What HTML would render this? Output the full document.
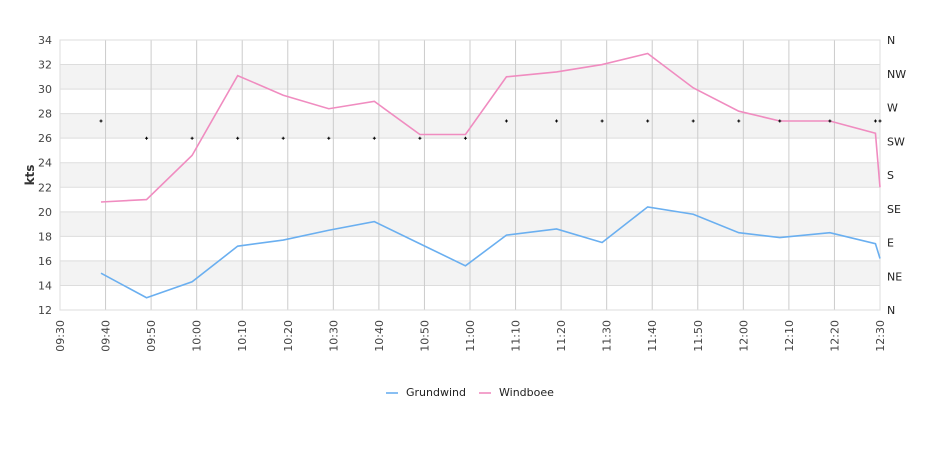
<!DOCTYPE html>
<html><head><meta charset="utf-8"><style>
body{margin:0;background:#fff;font-family:"DejaVu Sans","Liberation Sans",sans-serif}
svg text{font-family:"DejaVu Sans","Liberation Sans",sans-serif}
</style></head><body>
<svg id="chart" width="940" height="450" xmlns="http://www.w3.org/2000/svg"></svg>
<script>
const minutes=[9,19,29,39,49,59,69,79,89,98,109,119,129,139,149,158,169,179,180];
const grundwind=[15.0,13.0,14.3,17.2,17.7,18.5,19.2,17.4,15.6,18.1,18.6,17.5,20.4,19.8,18.3,17.9,18.3,17.4,16.2];
const windboee=[20.8,21.0,24.6,31.1,29.5,28.4,29.0,26.3,26.3,31.0,31.4,32.0,32.9,30.1,28.2,27.4,27.4,26.4,22.0];
const direction=[252,229,229,229,229,229,229,229,229,252,252,252,252,252,252,252,252,252,252];
const yTicks=[12,14,16,18,20,22,24,26,28,30,32,34];
const xTickLabels=["09:30","09:40","09:50","10:00","10:10","10:20","10:30","10:40","10:50","11:00","11:10","11:20","11:30","11:40","11:50","12:00","12:10","12:20","12:30"];
const dirLabels=["N","NE","E","SE","S","SW","W","NW","N"];
const L=60,R=880,T=40,B=310;
const X=m=>L+(R-L)*m/180, Y=v=>B-(B-T)*(v-12)/22, YD=d=>B-(B-T)*d/360;
const svg=document.getElementById('chart');const NS="http://www.w3.org/2000/svg";
function el(t,a,p){const e=document.createElementNS(NS,t);for(const k in a)e.setAttribute(k,a[k]);(p||svg).appendChild(e);return e;}
for(let i=0;i<yTicks.length-1;i++){if(i%2==1){const r=el('rect',{x:L,y:Y(yTicks[i+1]),width:R-L,height:Y(yTicks[i])-Y(yTicks[i+1]),fill:'#f3f3f3'});}}
yTicks.forEach(v=>{const l=el('line',{x1:L,x2:R,y1:Y(v),y2:Y(v),stroke:'#ddd'});
const t=el('text',{x:L-8,y:Y(v)+4,'text-anchor':'end','font-size':11,fill:'#444'});t.textContent=v;});
xTickLabels.forEach((s,i)=>{const x=X(i*10);if(i>0&&i<18){const l=el('line',{x1:x,x2:x,y1:T,y2:B,stroke:'#ccc'});}
const t=el('text',{x:0,y:0,'text-anchor':'end','font-size':11,fill:'#444',transform:`translate(${x+4},${B+10}) rotate(-90)`});t.textContent=s;});
const fr=el('rect',{x:L,y:T,width:R-L,height:B-T,fill:'none',stroke:'#ddd'});
dirLabels.forEach((s,i)=>{const t=el('text',{x:887,y:YD(i*45)+4,'font-size':11,fill:'#222'});t.textContent=s;});
const yt=el('text',{x:0,y:0,'text-anchor':'middle','font-size':12,'font-weight':'bold',fill:'#333',transform:'translate(34,175) rotate(-90)'});yt.textContent='kts';
function line(vals,c,name){const p=el('polyline',{points:vals.map((v,i)=>X(minutes[i])+','+Y(v)).join(' '),fill:'none',stroke:c,'stroke-width':1.6});}
line(grundwind,'#6aaff0','grundwind-line');line(windboee,'#f08cc0','windboee-line');
direction.forEach((d,i)=>{const x=X(minutes[i]),y=YD(d);const p=el('path',{d:`M${x-1.5},${y}h3M${x},${y-1.5}v3`,stroke:'#000','stroke-width':1});});
const lg=[["Grundwind","#6aaff0",386],["Windboee","#f08cc0",479]];
lg.forEach(([n,c,x])=>{const g=el('g',{});
el('line',{x1:x,x2:x+12,y1:393,y2:393,stroke:c,'stroke-width':1.6},g);const t=el('text',{x:x+20,y:396,'font-size':11,fill:'#222'},g);t.textContent=n;});
</script>
</body></html>
